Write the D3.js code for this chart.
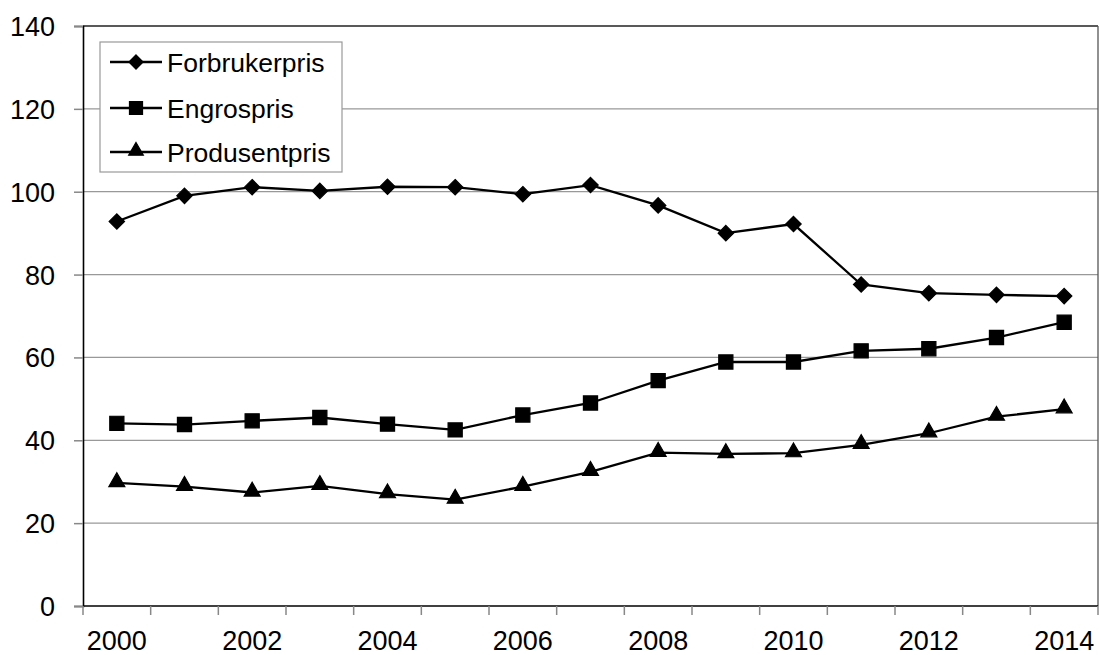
<!DOCTYPE html>
<html><head><meta charset="utf-8">
<script src="https://cdn.jsdelivr.net/npm/d3@7"></script>
<style>body{margin:0;background:#fff}svg{display:block}text{font-family:"Liberation Sans",Arial,sans-serif}</style>
</head><body><svg id="c" width="1101" height="655"></svg>
<script>
const years = [2000,2001,2002,2003,2004,2005,2006,2007,2008,2009,2010,2011,2012,2013,2014];
const forbrukerpris = [92.8,99.0,101.1,100.2,101.2,101.1,99.4,101.6,96.7,90.0,92.2,77.6,75.5,75.1,74.8];
const engrospris = [44.1,43.8,44.7,45.5,43.9,42.5,46.1,49.0,54.4,58.9,58.9,61.6,62.1,64.8,68.5];
const produsentpris = [29.7,28.8,27.4,29.0,27.0,25.7,28.8,32.4,37.0,36.7,36.9,38.9,41.7,45.7,47.5];
const yTicks = [0,20,40,60,80,100,120,140];
const xLabels = [2000,2002,2004,2006,2008,2010,2012,2014];
const seriesNames = ["Forbrukerpris","Engrospris","Produsentpris"];
const seriesValues = [forbrukerpris, engrospris, produsentpris];
const markerTypes = [d3.symbolDiamond2, d3.symbolSquare, d3.symbolTriangle];

const svg = d3.select("#c");
const L=83, R=1098, T=26, B=606;
const x = d3.scaleBand().domain(years).range([L,R]);
const y = d3.scaleLinear().domain([0,140]).range([B,T]);

// gridlines
svg.append("g").selectAll("line").data(yTicks.filter(v=>v>0&&v<140)).join("line")
  .attr("x1",L).attr("x2",R).attr("y1",d=>y(d)).attr("y2",d=>y(d))
  .attr("stroke","#999").attr("stroke-width",1.3);
// plot border top/right
svg.append("line").attr("x1",L).attr("x2",R).attr("y1",T).attr("y2",T).attr("stroke","#222").attr("stroke-width",1.3);
svg.append("line").attr("x1",R).attr("x2",R).attr("y1",T).attr("y2",B).attr("stroke","#555").attr("stroke-width",1.3);

// y axis
const yAxis = svg.append("g").attr("transform",`translate(${L},0)`)
  .call(d3.axisLeft(y).tickValues(yTicks).tickSize(9).tickPadding(19));
yAxis.select(".domain").attr("stroke","#000").attr("stroke-width",1.6);
yAxis.selectAll(".tick line").attr("stroke","#888").attr("stroke-width",1.5);
yAxis.selectAll("text").attr("font-size",27).attr("fill","#000").attr("dy","0.35em");
yAxis.attr("font-family",null);

// x axis: ticks between categories
const xAxisG = svg.append("g").attr("transform",`translate(0,${B})`);
xAxisG.append("line").attr("x1",L).attr("x2",R).attr("stroke","#000").attr("stroke-width",1.6);
const bounds = years.map(d=>x(d)).concat([R]);
xAxisG.selectAll("line.tk").data(bounds).join("line").attr("class","tk")
  .attr("x1",d=>d).attr("x2",d=>d).attr("y1",0).attr("y2",9).attr("stroke","#888").attr("stroke-width",1.5);
xAxisG.selectAll("text").data(xLabels).join("text")
  .attr("x",d=>x(d)+x.bandwidth()/2).attr("y",44).attr("text-anchor","middle")
  .attr("font-size",27).attr("fill","#000").text(d=>d);

// lines
const line = d3.line().x((d,i)=>x(years[i])+x.bandwidth()/2).y(d=>y(d));
const markerSizes = [150, 200, 110];
seriesValues.forEach((vals,k)=>{
  svg.append("path").attr("d",line(vals)).attr("fill","none").attr("stroke","#000").attr("stroke-width",2.3);
  svg.append("g").selectAll("path").data(vals).join("path")
    .attr("transform",(d,i)=>`translate(${x(years[i])+x.bandwidth()/2},${y(d)+(k===2?-1:0)})`)
    .attr("d",d3.symbol().type(markerTypes[k]).size(markerSizes[k]))
    .attr("fill","#000").attr("stroke","#000").attr("stroke-width",1.2).attr("stroke-linejoin","miter");
});

// legend
const lg = svg.append("g");
lg.append("rect").attr("x",100).attr("y",42).attr("width",242).attr("height",130)
  .attr("fill","#fff").attr("stroke","#999").attr("stroke-width",1.2);
const rowsY=[62,108,152];
seriesNames.forEach((n,k)=>{
  lg.append("line").attr("x1",110).attr("x2",162).attr("y1",rowsY[k]).attr("y2",rowsY[k]).attr("stroke","#000").attr("stroke-width",2.3);
  lg.append("path").attr("transform",`translate(136,${rowsY[k]+(k===2?-1:0)})`)
    .attr("d",d3.symbol().type(markerTypes[k]).size(markerSizes[k]*0.85))
    .attr("fill","#000").attr("stroke","#000").attr("stroke-width",1.2);
  lg.append("text").attr("x",167).attr("y",rowsY[k]+10).attr("font-size",26.5).attr("fill","#000").text(n);
});
</script></body></html>
